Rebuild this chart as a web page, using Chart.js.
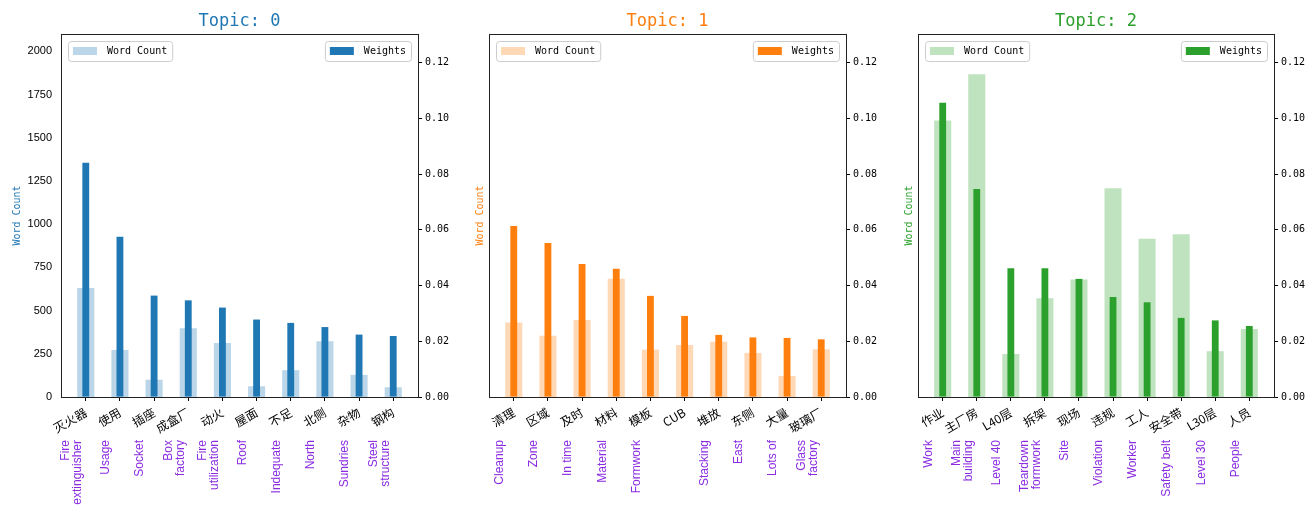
<!DOCTYPE html>
<html><head><meta charset="utf-8">
<script src="https://cdn.jsdelivr.net/npm/chart.js@4.4.1/dist/chart.umd.min.js"></script>
<style>
html,body{margin:0;padding:0;background:#fff;width:1307px;height:505px;overflow:hidden;}
canvas{position:absolute;left:0;top:0;}
</style></head><body>
<canvas id="c0" width="1307" height="505"></canvas>
<canvas id="c1" width="1307" height="505"></canvas>
<canvas id="c2" width="1307" height="505"></canvas>
<script>
// ---------- DATA ----------
const titles = ['Topic: 0', 'Topic: 1', 'Topic: 2'];

const categories0 = ['灭火器','使用','插座','成盒厂','动火','屋面','不足','北侧','杂物','钢构'];
const english0 = ['Fire\nextinguisher','Usage','Socket','Box\nfactory','Fire\nutilization','Roof','Indequate','North','Sundries','Steel\nstructure'];
const wordCount0 = [630, 272, 100, 398, 313, 62, 155, 323, 128, 56];
const weights0 = [0.0841, 0.0575, 0.0364, 0.0347, 0.0321, 0.0278, 0.0266, 0.0251, 0.0224, 0.0219];

const categories1 = ['清理','区域','及时','材料','模板','CUB','堆放','东侧','大量','玻璃厂'];
const english1 = ['Cleanup','Zone','In time','Material','Formwork','','Stacking','East','Lots of','Glass\nfactory'];
const wordCount1 = [431, 355, 446, 684, 274, 301, 319, 255, 122, 276];
const weights1 = [0.0614, 0.0553, 0.0477, 0.0460, 0.0363, 0.0291, 0.0223, 0.0214, 0.0212, 0.0207];

const categories2 = ['作业','主厂房','L40层','拆架','现场','违规','工人','安全带','L30层','人员'];
const english2 = ['Work','Main\nbuilding','Level 40','Teardown\nformwork','Site','Violation','Worker','Safety belt','Level 30','People'];
const wordCount2 = [1600, 1867, 249, 572, 680, 1208, 916, 941, 265, 394];
const weights2 = [0.1056, 0.0747, 0.0462, 0.0462, 0.0424, 0.0359, 0.0340, 0.0284, 0.0275, 0.0255];

const countTicks = [0, 250, 500, 750, 1000, 1250, 1500, 1750, 2000];
const weightTicks = [0, 0.02, 0.04, 0.06, 0.08, 0.10, 0.12];
const countMax = 2100;
const weightMax = 0.1303;

// ---------- STYLE / LAYOUT ----------
const colors = ['#1f77b4', '#ff7f0e', '#2ca02c'];
const lightColors = ['rgba(31,119,180,0.3)', 'rgba(255,127,14,0.3)', 'rgba(44,160,44,0.3)'];
const purple = '#8a2be2';
const W = 1307, H = 505;
const panelLeft = [61, 489, 918], panelRight = [418, 846, 1274];
const plotTop = 34, plotBottom = 397;
const MONO = '"DejaVu Sans Mono", monospace';
const SANS = '"Liberation Sans", Arial, sans-serif';
const CJK = '"Noto Sans CJK SC", sans-serif';

const panels = [
  {cats: categories0, eng: english0, wc: wordCount0, w: weights0},
  {cats: categories1, eng: english1, wc: wordCount1, w: weights1},
  {cats: categories2, eng: english2, wc: wordCount2, w: weights2},
];

function roundRect(ctx, x, y, w, h, r) {
  ctx.beginPath();
  ctx.moveTo(x + r, y);
  ctx.lineTo(x + w - r, y); ctx.quadraticCurveTo(x + w, y, x + w, y + r);
  ctx.lineTo(x + w, y + h - r); ctx.quadraticCurveTo(x + w, y + h, x + w - r, y + h);
  ctx.lineTo(x + r, y + h); ctx.quadraticCurveTo(x, y + h, x, y + h - r);
  ctx.lineTo(x, y + r); ctx.quadraticCurveTo(x, y, x + r, y);
  ctx.closePath();
}

function drawLegend(ctx, x, y, label, color, alignRight) {
  ctx.save();
  ctx.font = '10px ' + MONO;
  const tw = ctx.measureText(label).width;
  const w = 5 + 24 + 10 + tw + 5, h = 20;
  const bx = alignRight ? x - w : x;
  roundRect(ctx, bx + 0.5, y + 0.5, w, h, 3);
  ctx.fillStyle = 'rgba(255,255,255,0.8)';
  ctx.fill();
  ctx.strokeStyle = '#cccccc';
  ctx.lineWidth = 1;
  ctx.stroke();
  ctx.fillStyle = color;
  ctx.fillRect(bx + 5, y + 6, 24, 8);
  ctx.fillStyle = '#000';
  ctx.textBaseline = 'middle';
  ctx.textAlign = 'left';
  ctx.fillText(label, bx + 39, y + 10.5);
  ctx.restore();
}

function makeChart(i) {
  const p = panels[i];
  const decor = {
    id: 'decor' + i,
    afterDraw(chart) {
      const ctx = chart.ctx;
      const a = chart.chartArea;
      ctx.save();
      // frame
      ctx.strokeStyle = '#222';
      ctx.lineWidth = 1;
      ctx.strokeRect(a.left + 0.5, a.top + 0.5, a.right - a.left, a.bottom - a.top);
      // title
      ctx.fillStyle = colors[i];
      ctx.font = '17px ' + MONO;
      ctx.textAlign = 'center';
      ctx.textBaseline = 'middle';
      ctx.fillText(titles[i], (a.left + a.right) / 2, 22);
      // y label
      ctx.save();
      ctx.translate(i === 0 ? a.left - 44 : a.left - 9, (a.top + a.bottom) / 2);
      ctx.rotate(-Math.PI / 2);
      ctx.font = '10px ' + MONO;
      ctx.fillText('Word Count', 0, 0);
      ctx.restore();
      // english labels
      const xs = chart.scales.x;
      ctx.fillStyle = purple;
      ctx.font = '12px ' + SANS;
      ctx.textBaseline = 'middle';
      ctx.textAlign = 'right';
      p.eng.forEach((txt, k) => {
        if (!txt) return;
        const lines = txt.split('\n');
        const cx = xs.getPixelForValue(k) - 14;
        ctx.save();
        ctx.translate(cx, 440);
        ctx.rotate(-Math.PI / 2);
        lines.forEach((ln, j) => {
          ctx.fillText(ln, 0, (j - (lines.length - 1) / 2) * 12);
        });
        ctx.restore();
      });
      ctx.restore();
      // legends
      drawLegend(ctx, a.left + 7, 41, chart.data.datasets[1].label, lightColors[i], false);
      drawLegend(ctx, a.right - 7, 41, chart.data.datasets[0].label, colors[i], true);
    }
  };

  new Chart(document.getElementById('c' + i), {
    type: 'bar',
    data: {
      datasets: [
        {label: 'Weights', data: p.w.map((v, k) => ({x: k, y: v})), yAxisID: 'y2',
         backgroundColor: colors[i], order: 0, grouped: false, barPercentage: 0.2, categoryPercentage: 1, borderWidth: 0},
        {label: 'Word Count', data: p.wc.map((v, k) => ({x: k, y: v})), yAxisID: 'y',
         backgroundColor: lightColors[i], order: 1, grouped: false, barPercentage: 0.5, categoryPercentage: 1, borderWidth: 0}
      ]
    },
    options: {
      responsive: false,
      animation: false,
      devicePixelRatio: 1,
      layout: {padding: {left: panelLeft[i] - 40, right: W - panelRight[i] - 40, top: plotTop, bottom: H - plotBottom - 60}},
      plugins: {legend: {display: false}, tooltip: {enabled: false}, title: {display: false}},
      scales: {
        x: {
          type: 'linear', min: -0.725, max: 9.725, offset: false,
          afterBuildTicks: s => { s.ticks = p.cats.map((c, k) => ({value: k})); },
          afterFit: s => { s.height = 60; },
          grid: {offset: false, drawOnChartArea: false, drawTicks: true, tickLength: 4, color: '#000'},
          border: {display: false},
          ticks: {autoSkip: false, maxRotation: 30, minRotation: 30, padding: 4, color: '#000',
                  font: {family: CJK, size: 12},
                  callback: v => p.cats[v]}
        },
        y: {
          position: 'left', min: 0, max: countMax,
          afterBuildTicks: s => { s.ticks = countTicks.map(v => ({value: v})); },
          afterFit: s => { s.width = 40; },
          grid: {display: false, drawTicks: false},
          border: {display: false},
          ticks: {display: i === 0, padding: 9, color: '#000', font: {family: SANS, size: 11},
                  callback: v => String(v)}
        },
        y2: {
          position: 'right', min: 0, max: weightMax,
          afterBuildTicks: s => { s.ticks = weightTicks.map(v => ({value: v})); },
          afterFit: s => { s.width = 40; },
          grid: {drawOnChartArea: false, drawTicks: true, tickLength: 4, color: '#000'},
          border: {display: false},
          ticks: {padding: 3, color: '#000', font: {family: MONO, size: 10}, callback: v => v.toFixed(2)}
        }
      }
    },
    plugins: [decor]
  });
}
[0, 1, 2].forEach(makeChart);
</script>
</body></html>
